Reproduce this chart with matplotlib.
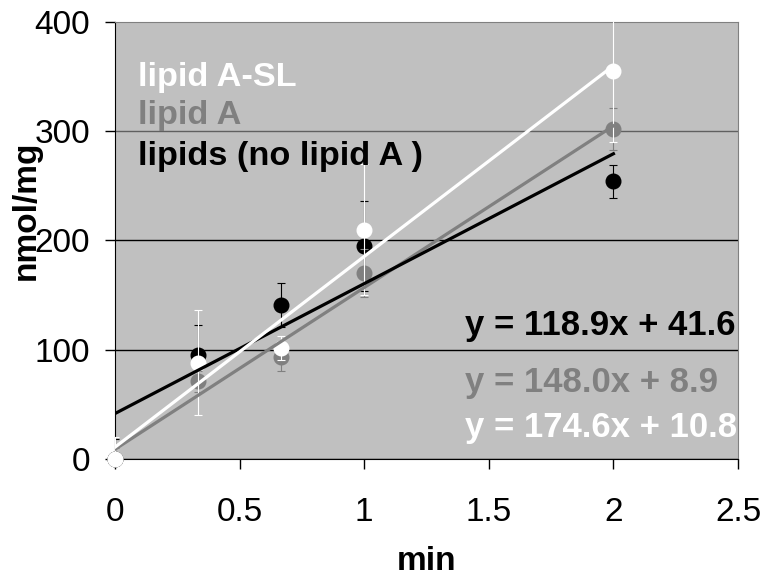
import numpy as np
import matplotlib
matplotlib.use('Agg')
import matplotlib.pyplot as plt

plt.rcParams['font.family'] = ['Liberation Sans', 'DejaVu Sans']

# time points (min)
t = [0, 0.333, 0.667, 1, 2]

# lipid A-SL (white)
sl = [0, 88, 102, 210, 355]
sl_err = [20, 48, 11, 60, 65]
# lipid A (gray)
la = [0, 71, 93, 170, 302]
la_err = [10, 10, 12, 22, 19]
# lipids, no lipid A (black)
nl = [0, 95, 141, 195, 254]
nl_err = [18, 28, 20, 41, 15]

# trendline equations shown on the chart: slope, intercept
fit_sl = (174.6, 10.8)
fit_la = (148.0, 8.9)
fit_nl = (118.9, 41.6)

names = ['lipid A-SL', 'lipid A', 'lipids (no lipid A )']
eqs = ['y = 118.9x + 41.6', 'y = 148.0x + 8.9', 'y = 174.6x + 10.8']

fig = plt.figure(figsize=(7.64, 5.77), dpi=100)
ax = fig.add_axes([0.1505, 0.2045, 0.8155, 0.7574])
ax.set_facecolor('#C0C0C0')

gray = '#808080'

# data points with error bars
for y, e, c in [(nl, nl_err, 'black'), (la, la_err, gray), (sl, sl_err, 'white')]:
    ax.errorbar(t, y, yerr=e, fmt='none', ecolor=c, elinewidth=0.8,
                capsize=3, capthick=0.8, zorder=3)
    ax.plot(t, y, 'o', color=c, markersize=10.5, zorder=3, clip_on=False)

# linear trendlines
xx = np.array([0, 2])
for (m, b), c in [(fit_la, gray), (fit_nl, 'black'), (fit_sl, 'white')]:
    ax.plot(xx, m * xx + b, color=c, lw=2.3, zorder=4)

ax.set_xlim(0, 2.5)
ax.set_ylim(0, 400)
ax.set_xticks([0, 0.5, 1, 1.5, 2, 2.5])
ax.set_xticklabels(['0', '0.5', '1', '1.5', '2', '2.5'])
ax.set_yticks([0, 100, 200, 300, 400])

ax.yaxis.grid(True, color='black', lw=1)
ax.set_axisbelow(True)
gl = ax.get_ygridlines()
gl[3].set_color('#606060')
gl[4].set_visible(False)

ax.tick_params(axis='both', direction='out', length=7, width=1, labelsize=24)
ax.tick_params(axis='y', pad=11)
ax.tick_params(axis='x', pad=20)

for s in ['top', 'right']:
    ax.spines[s].set_color(gray)
for s in ['left', 'bottom']:
    ax.spines[s].set_color('black')

ax.set_xlabel('min', fontsize=24, fontweight='bold', labelpad=13)
ax.set_ylabel('nmol/mg', fontsize=24, fontweight='bold')
ax.yaxis.set_label_coords(-0.118, 0.57)

# legend-like labels
for txt, yv, c in zip(names, [341, 307, 269], ['white', gray, 'black']):
    ax.text(0.092, yv, txt, color=c, fontsize=24.7, fontweight='bold', va='baseline')

# equations, clipped at the plot edge
for txt, yv, c in zip(eqs, [113.5, 61.3, 20.1], ['black', gray, 'white']):
    ax.text(1.405, yv, txt, color=c, fontsize=25, fontweight='bold',
            va='baseline', clip_on=True)

fig.savefig('out.png', dpi=100)
